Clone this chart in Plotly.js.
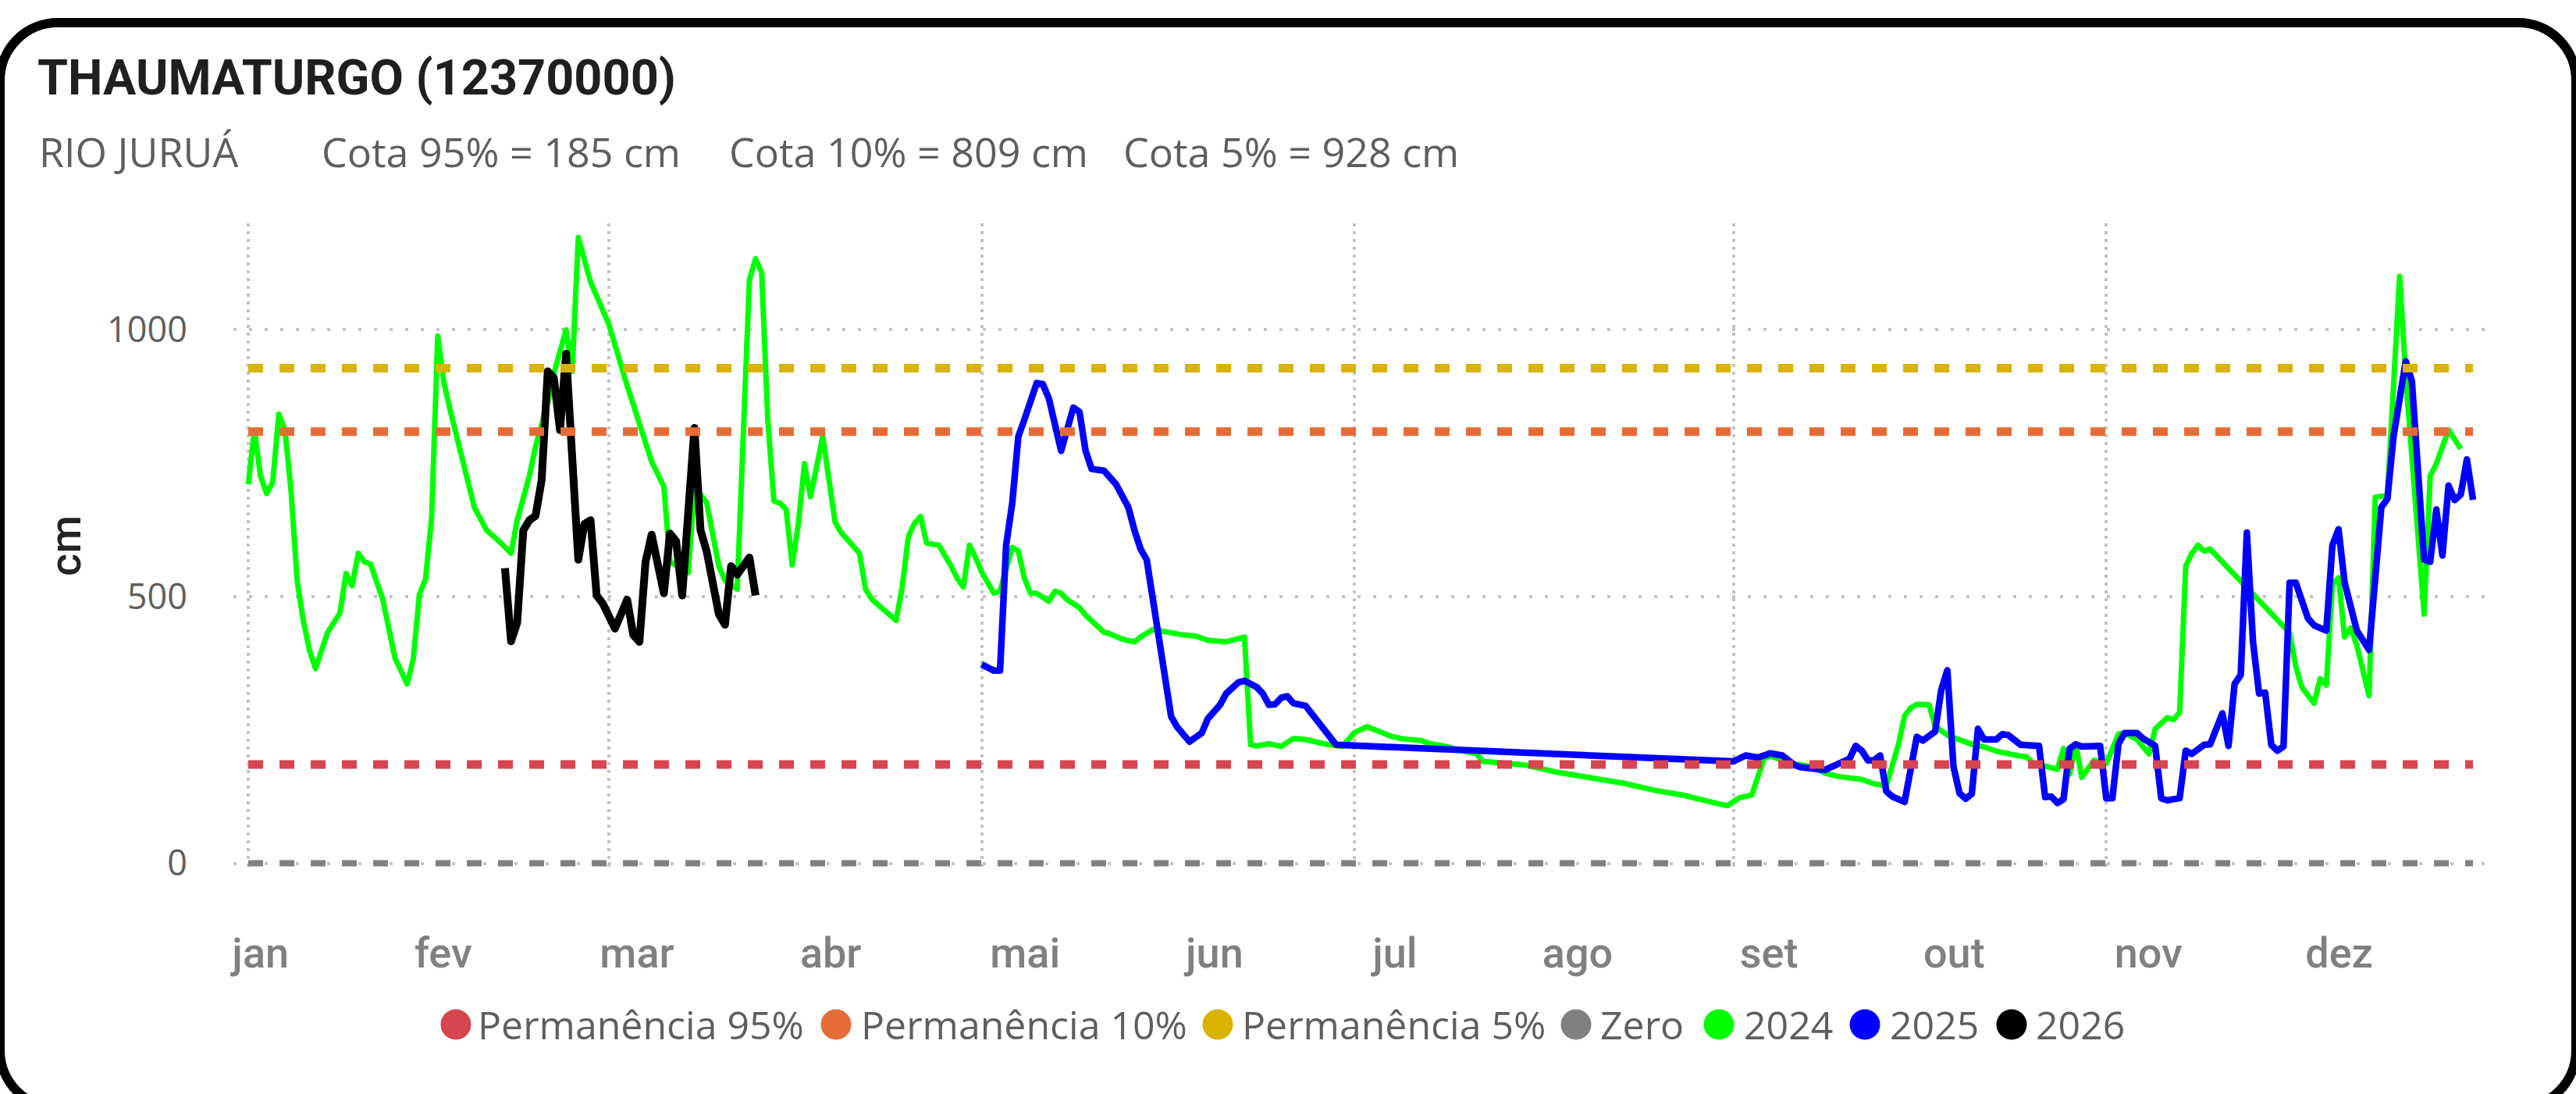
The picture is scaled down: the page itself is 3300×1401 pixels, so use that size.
<!DOCTYPE html>
<html>
<head>
<meta charset="utf-8">
<script src="https://cdn.plot.ly/plotly-3.0.1.min.js"></script>
<style>
  html, body { margin: 0; padding: 0; background: #ffffff; overflow: hidden; }
  #chart { position: absolute; left: 0; top: 0; width: 3300px; height: 1401px; }
  #frame { position: absolute; left: -6px; top: 23px; width: 3312px; height: 1402px;
           border: 12px solid #000; border-radius: 80px; box-sizing: border-box; pointer-events: none; }
  #chart path.js-line { stroke-linejoin: round; }
</style>
</head>
<body>
<div id="chart"></div>
<div id="frame"></div>
<script>
// ---------------- DATA (day index: 0 = 1 jan) ----------------
const months = ['jan','fev','mar','abr','mai','jun','jul','ago','set','out','nov','dez'];
const monthLengths = [31,28,31,30,31,30,31,31,30,31,30,31];

const refNames  = ['Permanência 95%','Permanência 10%','Permanência 5%','Zero'];
const refValues = [185, 809, 928, 0];
const refDays   = [0, 364];

const days2024 = [0,1,2,3,4,5,6,7,8,9,10,11,13,15,16,17,18,19,20,22,24,26,27,28,29,30,31,32,33,35,37,39,40,41,43,44,46,47,49,50,52,53,54,56,59,62,66,68,69,72,73,75,77,78,80,82,83,84,85,86,87,88,89,90,91,92,94,96,97,99,100,101,102,103,104,106,107,108,109,110,111,113,115,116,117,118,119,120,122,123,125,126,127,128,129,131,132,133,134,136,137,139,140,141,143,145,146,148,150,153,155,157,159,160,163,164,165,167,169,171,173,176,179,181,183,187,189,192,193,196,199,201,202,209,214,219,225,230,235,240,242,244,246,248,249,251,253,256,258,260,264,266,268,270,271,272,273,275,276,278,280,282,284,286,289,291,292,294,296,297,298,299,300,302,303,304,306,307,309,311,312,314,315,316,317,318,319,320,321,334,335,336,338,339,340,341,342,343,344,345,347,348,350,352,353,356,357,358,360,362];
const cota2024 = [710,812,726,693,714,842,812,698,530,455,400,365,433,469,543,520,581,565,561,495,385,336,383,504,532,647,988,902,851,761,667,624,615,604,581,643,726,781,863,918,1000,922,1173,1090,1010,895,753,706,565,545,706,676,557,530,514,1094,1133,1107,832,679,675,663,559,636,749,687,800,640,620,596,581,514,495,485,475,455,518,612,637,650,600,596,557,534,518,596,573,546,506,510,592,585,534,506,506,491,510,506,494,479,465,444,433,430,420,415,424,438,433,428,426,418,416,415,424,222,220,224,219,234,232,224,219,245,256,238,233,230,225,219,210,205,191,184,171,162,150,137,127,113,108,123,128,196,201,193,186,181,169,163,157,149,145,223,276,291,298,297,257,240,232,223,218,210,203,199,188,181,176,215,167,224,161,193,189,187,242,244,232,205,252,273,269,283,557,581,596,585,589,432,369,330,300,346,334,522,535,424,441,408,314,686,690,1100,910,467,726,749,812,777];

const days2025 = [120,122,123,124,125,126,127,129,130,131,133,135,136,137,138,140,142,144,145,146,147,151,152,154,156,157,159,160,162,163,165,166,167,168,169,170,171,173,178,243,245,247,249,251,253,254,258,260,262,263,264,265,266,267,268,269,271,273,274,276,277,278,279,280,281,282,283,284,286,287,288,290,292,293,294,295,296,297,298,299,300,303,304,305,306,307,309,310,312,313,314,316,317,318,320,321,323,324,325,326,327,328,329,330,331,332,333,334,335,336,337,338,339,340,341,342,343,344,345,347,348,349,350,351,353,354,356,357,358,359,360,361,362,363,364];
const cota2025 = [373,361,361,596,675,800,832,900,898,871,773,854,846,773,739,736,710,667,624,589,569,275,255,228,244,271,297,318,339,342,330,318,297,298,310,313,300,295,222,191,202,198,206,202,184,180,175,187,196,220,211,193,193,202,135,125,115,237,230,247,325,362,181,131,121,130,252,232,232,242,240,222,222,220,124,125,113,120,215,223,219,220,122,122,224,244,244,234,220,122,118,122,211,205,222,223,281,220,336,353,620,416,318,320,222,211,219,526,526,491,459,446,440,436,596,626,526,475,436,400,534,667,683,800,941,904,569,565,663,577,708,681,691,757,681];

const days2026 = [42,43,44,45,46,47,48,49,50,51,52,53,54,55,56,57,58,60,62,63,64,65,66,68,69,70,71,73,74,75,76,77,78,79,80,82,83];
const cota2026 = [553,416,451,624,643,651,718,922,910,812,955,777,569,636,643,502,487,440,494,428,415,565,616,506,618,604,502,816,624,585,518,467,447,557,541,573,502];

// ---------------- LAYOUT HELPERS ----------------
const W = 3300, H = 1401;
const PL = 299, PR = 3197, PT = 286, PB = 1112;
const px = X => (X - PL) / (PR - PL);
const py = Y => (PB - Y) / (PB - PT);

// month starts (day index)
const monthStart = [];
monthLengths.reduce((acc, n, i) => { monthStart.push(acc); return acc + n; }, 0);
const gridDays = [0, 2, 4, 6, 8, 10].map(i => monthStart[i]);
const monthLabelPos = [2.0, 31.9, 63.6, 95.3, 127.1, 158.1, 187.6, 217.5, 248.8, 279.1, 310.9, 342.1];

const refColors = ['#D64550', '#E66C37', '#D9B300', '#808080'];
const refWidths = [11, 11, 11, 8];

const traces = [];
refValues.forEach((v, i) => {
  traces.push({
    type: 'scatter', mode: 'lines', name: refNames[i],
    x: refDays, y: refDays.map(() => v),
    xaxis: 'x2', yaxis: 'y',
    line: { color: refColors[i], width: refWidths[i], dash: '19px,21px' },
    hoverinfo: 'skip', showlegend: false
  });
});
traces.push({ type: 'scatter', mode: 'lines', name: '2024', x: days2024, y: cota2024,
  line: { color: '#00FF00', width: 7 }, showlegend: false });
traces.push({ type: 'scatter', mode: 'lines', name: '2025', x: days2025, y: cota2025,
  line: { color: '#0000FF', width: 8.5 }, showlegend: false });
traces.push({ type: 'scatter', mode: 'lines', name: '2026', x: days2026, y: cota2026,
  line: { color: '#000000', width: 10 }, showlegend: false });

const xRange = [-2.43, 367.7];

// legend (drawn as circles + text)
const legendNames  = refNames.concat(['2024', '2025', '2026']);
const legendColors = refColors.concat(['#00FF00', '#0000FF', '#000000']);
const legendCircleX = [584, 1071, 1560, 2019, 2202, 2389, 2577];
const legendTextX   = [610, 1101, 1589, 2048, 2232, 2419, 2606];
const legendY = 1312, legendR = 19.5;

const shapes = legendNames.map((n, i) => ({
  type: 'circle', xref: 'paper', yref: 'paper',
  x0: px(legendCircleX[i] - legendR), x1: px(legendCircleX[i] + legendR),
  y0: py(legendY + legendR), y1: py(legendY - legendR),
  fillcolor: legendColors[i], line: { width: 0 }
}));

const annotations = legendNames.map((n, i) => ({
  text: n, xref: 'paper', yref: 'paper', x: px(legendTextX[i]), y: py(legendY),
  xanchor: 'left', yanchor: 'middle', showarrow: false,
  font: { family: 'Open Sans, Noto Sans, sans-serif', size: 50, color: '#605E5C' }
}));

const subParts = ['RIO JURUÁ', 'Cota 95% = 185 cm', 'Cota 10% = 809 cm', 'Cota 5% = 928 cm'];
const subX = [48, 410, 932, 1437];
subParts.forEach((t, i) => annotations.push({
  text: t, xref: 'paper', yref: 'paper', x: px(subX[i]), y: py(193),
  xanchor: 'left', yanchor: 'middle', showarrow: false,
  font: { family: 'Open Sans, Noto Sans, sans-serif', size: 52, color: '#605E5C' }
}));

const layout = {
  width: W, height: H,
  paper_bgcolor: 'rgba(0,0,0,0)', plot_bgcolor: 'rgba(0,0,0,0)',
  margin: { l: PL, r: W - PR, t: PT, b: H - PB, pad: 0 },
  showlegend: false,
  title: {
    text: 'THAUMATURGO (12370000)',
    xref: 'container', yref: 'container', x: 48 / W, y: 1 - 99 / H,
    xanchor: 'left', yanchor: 'middle',
    font: { family: 'Roboto, sans-serif', size: 63, weight: 700, color: '#1F1F1F' }
  },
  xaxis: {
    range: xRange, type: 'linear', fixedrange: true,
    tickmode: 'array', tickvals: monthLabelPos, ticktext: months,
    showgrid: false, zeroline: false, showline: false, ticks: '',
    ticklabelstandoff: 72,
    tickfont: { family: 'Roboto, sans-serif', size: 54, weight: 500, color: '#808080' }
  },
  xaxis2: {
    overlaying: 'x', anchor: 'y', range: xRange, type: 'linear', fixedrange: true,
    tickmode: 'array', tickvals: gridDays, showticklabels: false, ticks: '',
    showgrid: true, gridcolor: '#C4C4C4', gridwidth: 4, griddash: '4px,6px',
    zeroline: false, showline: false
  },
  yaxis: {
    range: [-9.5, 1199.5], fixedrange: true,
    tickmode: 'array', tickvals: [0, 500, 1000], ticktext: ['0', '500', '1000'],
    showgrid: true, gridcolor: '#C4C4C4', gridwidth: 4, griddash: '4px,16px',
    zeroline: false, showline: false, ticks: '',
    ticklabelstandoff: 58,
    tickfont: { family: 'Open Sans, Noto Sans, sans-serif', size: 45, color: '#605E5C' },
    title: { text: 'cm', standoff: 15,
      font: { family: 'Roboto, sans-serif', size: 56, weight: 500, color: '#252423' } }
  },
  shapes: shapes,
  annotations: annotations
};

Plotly.newPlot('chart', traces, layout, { staticPlot: true, displayModeBar: false });
</script>
</body>
</html>
